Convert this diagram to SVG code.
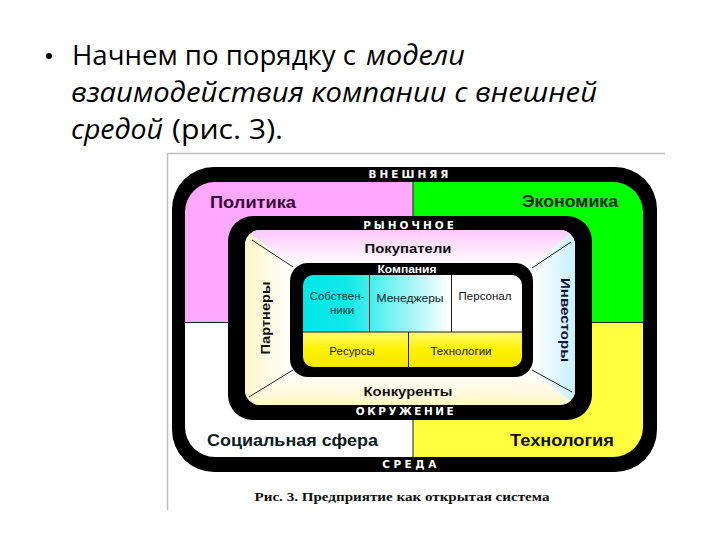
<svg xmlns="http://www.w3.org/2000/svg" width="720" height="540" viewBox="0 0 720 540">
<style>
.title{font-family:"Open Sans","Noto Sans","Liberation Sans",sans-serif;font-size:28px;fill:#000}
.it{font-style:italic}
.band{font-family:"DejaVu Sans","Liberation Sans",sans-serif;font-weight:bold;fill:#fff;font-size:10.5px}
.big{font-family:"Liberation Sans",Arial,sans-serif;font-weight:bold;font-size:17px}
.mid{font-family:"Liberation Sans",Arial,sans-serif;font-weight:bold;font-size:13px}
.cell{font-family:"Liberation Sans",Arial,sans-serif;font-size:11.5px;text-anchor:middle}
.div{stroke:#202020;stroke-width:1;fill:none}
.conn{stroke:#202020;stroke-width:1}
</style>
<defs>
<clipPath id="outerIn"><rect x="185" y="182" width="458" height="275" rx="30"/></clipPath>
<clipPath id="marketIn"><rect x="245" y="230" width="330" height="175" rx="15"/></clipPath>
<clipPath id="compIn"><rect x="303" y="275" width="219" height="92" rx="10"/></clipPath>
<linearGradient id="gTop" x1="0" y1="0" x2="0" y2="1"><stop offset="0" stop-color="#ffc8ff"/><stop offset="1" stop-color="#ffffff"/></linearGradient>
<linearGradient id="gLeft" x1="0" y1="0" x2="1" y2="0"><stop offset="0" stop-color="#fff6c8"/><stop offset="1" stop-color="#ffffff"/></linearGradient>
<linearGradient id="gRight" x1="0" y1="0" x2="1" y2="0"><stop offset="0" stop-color="#ffffff"/><stop offset="1" stop-color="#c8f0ff"/></linearGradient>
<linearGradient id="gBot" x1="0" y1="0" x2="0" y2="1"><stop offset="0" stop-color="#ffffff"/><stop offset="1" stop-color="#fff6c8"/></linearGradient>
<linearGradient id="gCyan" gradientUnits="userSpaceOnUse" x1="303" y1="0" x2="450" y2="0"><stop offset="0" stop-color="#00e8e8"/><stop offset="0.3" stop-color="#10e8e8"/><stop offset="1" stop-color="#ffffff"/></linearGradient>
<linearGradient id="gYel" x1="0" y1="0" x2="0" y2="1"><stop offset="0" stop-color="#fffa70"/><stop offset="0.5" stop-color="#fff200"/><stop offset="1" stop-color="#f4e800"/></linearGradient>
</defs>
<rect width="720" height="540" fill="#fff"/>

<g id="title">
<circle cx="49" cy="56" r="3" fill="#000"/>
<text class="title" x="72" y="65"><tspan textLength="284" lengthAdjust="spacingAndGlyphs">Начнем по порядку с</tspan><tspan class="it" x="366" textLength="99" lengthAdjust="spacingAndGlyphs">модели</tspan></text>
<text class="title it" x="71" y="102" textLength="526" lengthAdjust="spacingAndGlyphs">взаимодействия компании с внешней</text>
<text class="title" x="71" y="139"><tspan class="it" textLength="92" lengthAdjust="spacingAndGlyphs">средой</tspan><tspan x="172" textLength="111" lengthAdjust="spacingAndGlyphs">(рис. 3).</tspan></text>
</g>

<g id="frame">
<line x1="167" y1="153.5" x2="665" y2="153.5" stroke="#c0c0c0" stroke-width="1.5"/>
<line x1="167.5" y1="153" x2="167.5" y2="510" stroke="#c0c0c0" stroke-width="1.5"/>
</g>

<g id="external">
<rect x="172" y="167" width="485" height="305" rx="42" fill="#000"/>
<g clip-path="url(#outerIn)">
<rect x="185" y="182" width="228" height="140" fill="#ffa8ff"/>
<rect x="413" y="182" width="230" height="140" fill="#00ff00"/>
<rect x="185" y="322" width="228" height="135" fill="#ffffff"/>
<rect x="413" y="322" width="230" height="135" fill="#ffff40"/>
<line class="div" x1="185" y1="322.5" x2="643" y2="322.5"/>
<line class="div" x1="413" y1="182" x2="413" y2="457"/>
</g>
<text class="band" x="410" y="178" text-anchor="middle" letter-spacing="3">ВНЕШНЯЯ</text>
<text class="band" x="411" y="468" text-anchor="middle" letter-spacing="3.5">СРЕДА</text>
<text class="big" x="210" y="208" fill="#3a0838" textLength="86" lengthAdjust="spacingAndGlyphs">Политика</text>
<text class="big" x="522" y="207" fill="#0c280c" textLength="96" lengthAdjust="spacingAndGlyphs">Экономика</text>
<text class="big" x="207" y="446" fill="#0a2020" textLength="171" lengthAdjust="spacingAndGlyphs">Социальная сфера</text>
<text class="big" x="510" y="446" fill="#101010" textLength="104" lengthAdjust="spacingAndGlyphs">Технология</text>
</g>

<g id="market">
<rect x="228" y="216" width="364" height="204" rx="25" fill="#000"/>
<g clip-path="url(#marketIn)">
<rect x="245" y="230" width="330" height="175" fill="#fff"/>
<polygon points="245,230 575,230 533,265 292,265" fill="url(#gTop)"/>
<polygon points="245,230 292,265 292,372 245,405" fill="url(#gLeft)"/>
<polygon points="575,230 533,265 533,372 575,405" fill="url(#gRight)"/>
<polygon points="245,405 292,372 533,372 575,405" fill="url(#gBot)"/>
</g>
<text class="band" x="410" y="228.5" text-anchor="middle" letter-spacing="3">РЫНОЧНОЕ</text>
<text class="band" x="406" y="415" text-anchor="middle" letter-spacing="2.5">ОКРУЖЕНИЕ</text>
</g>

<g id="buyers"><text class="mid" x="408" y="253" text-anchor="middle" fill="#101010" textLength="87" lengthAdjust="spacingAndGlyphs">Покупатели</text></g>
<g id="competitors"><text class="mid" x="408" y="396" text-anchor="middle" fill="#101010" textLength="89" lengthAdjust="spacingAndGlyphs">Конкуренты</text></g>
<g id="partners"><text class="mid" transform="translate(270,318) rotate(-90)" text-anchor="middle" fill="#101010" font-weight="normal" textLength="73" lengthAdjust="spacingAndGlyphs">Партнеры</text></g>
<g id="investors"><text class="mid" transform="translate(561,320) rotate(90)" text-anchor="middle" fill="#101040" textLength="84" lengthAdjust="spacingAndGlyphs">Инвесторы</text></g>

<g id="connectors">
<line class="conn" x1="252" y1="240" x2="293" y2="267"/>
<line class="conn" x1="571" y1="242" x2="532" y2="268"/>
<line class="conn" x1="249" y1="397" x2="293" y2="370"/>
<line class="conn" x1="572" y1="392" x2="532" y2="370"/>
</g>

<g id="company">
<rect x="290" y="263" width="243" height="114" rx="18" fill="#000"/>
<g clip-path="url(#compIn)">
<rect x="303" y="275" width="219" height="57" fill="url(#gCyan)"/>
<rect x="303" y="332" width="219" height="35" fill="url(#gYel)"/>
<line class="div" x1="303" y1="332" x2="522" y2="332"/>
<line class="div" x1="369.5" y1="275" x2="369.5" y2="332"/>
<line class="div" x1="451.5" y1="275" x2="451.5" y2="332"/>
<line class="div" x1="408.5" y1="332" x2="408.5" y2="367"/>
</g>
<text x="407" y="272.5" text-anchor="middle" font-family="Liberation Sans,Arial,sans-serif" font-weight="bold" font-size="10" fill="#fff" textLength="59" lengthAdjust="spacingAndGlyphs">Компания</text>
</g>

<g id="owners"><text class="cell" x="337" y="300" fill="#0a3a3a">Собствен-</text><text class="cell" x="342" y="314" fill="#0a3a3a">ники</text></g>
<g id="managers"><text class="cell" x="410" y="302" fill="#0a2a2a" textLength="67" lengthAdjust="spacingAndGlyphs">Менеджеры</text></g>
<g id="staff"><text class="cell" x="485" y="300" fill="#101010">Персонал</text></g>
<g id="resources"><text class="cell" x="352" y="355" fill="#202000">Ресурсы</text></g>
<g id="technologies"><text class="cell" x="461" y="355" fill="#202000">Технологии</text></g>

<g id="caption"><text x="402" y="501" text-anchor="middle" font-family="Liberation Serif,serif" font-weight="bold" font-size="12" fill="#101010" textLength="295" lengthAdjust="spacingAndGlyphs">Рис. 3. Предприятие как открытая система</text></g>
</svg>
